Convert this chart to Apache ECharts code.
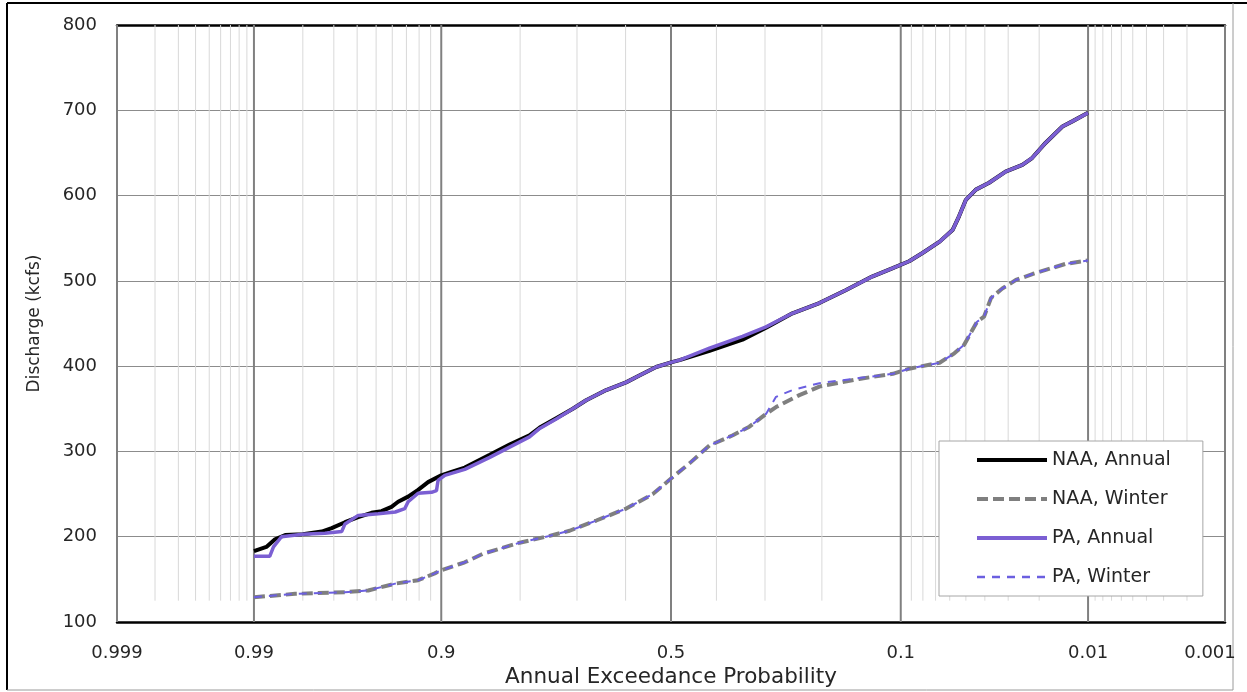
<!DOCTYPE html>
<html>
<head>
<meta charset="utf-8">
<script src="https://cdn.jsdelivr.net/npm/echarts@6/dist/echarts.min.js"></script>
<style>
html, body { margin: 0; padding: 0; background: #fff; }
#chart { width: 1247px; height: 692px; }
</style>
</head>
<body>
<div id="chart"></div>
<script>
// annual exceedance probabilities and discharge (kcfs)
var naaAnnualP = [0.99, 0.988, 0.9864, 0.9843, 0.98, 0.9743, 0.9708, 0.9655, 0.9595, 0.9526, 0.9468, 0.9405, 0.936, 0.9287, 0.9208, 0.9123, 0.90, 0.8896, 0.875, 0.844, 0.816, 0.785, 0.768, 0.739, 0.708, 0.682, 0.641, 0.599, 0.570, 0.533, 0.496, 0.481, 0.415, 0.345, 0.298, 0.249, 0.204, 0.165, 0.131, 0.108, 0.092, 0.080, 0.067, 0.058, 0.054, 0.050, 0.0445, 0.038, 0.031, 0.025, 0.022, 0.0183, 0.0145, 0.0126, 0.01];
var naaAnnualQ = [183, 188, 197, 202, 203, 206, 210, 217, 223, 228, 230, 235, 241, 247, 255, 264, 272, 276, 281, 296, 308, 319, 328, 339, 350, 360, 372, 381, 389, 399, 405, 407, 418, 431, 445, 462, 474, 489, 505, 515, 523, 533, 546, 560, 576, 595, 607, 615, 628, 636, 644, 662, 681, 687, 697];

var paAnnualP = [0.99, 0.9874, 0.9867, 0.9851, 0.98, 0.9732, 0.9669, 0.9655, 0.9595, 0.9488, 0.938, 0.9312, 0.9287, 0.9208, 0.9092, 0.9046, 0.9031, 0.8965, 0.875, 0.844, 0.816, 0.785, 0.768, 0.739, 0.708, 0.682, 0.641, 0.599, 0.570, 0.533, 0.496, 0.481, 0.415, 0.345, 0.298, 0.249, 0.204, 0.165, 0.131, 0.108, 0.092, 0.080, 0.067, 0.058, 0.054, 0.050, 0.0445, 0.038, 0.031, 0.025, 0.022, 0.0183, 0.0145, 0.0126, 0.01];
var paAnnualQ = [177, 177, 188, 200, 203, 204, 206, 215, 225, 227, 229, 233, 241, 251, 252, 254, 266, 272, 279, 293, 305, 317, 327, 338, 350, 360, 372, 381, 389, 399, 405, 407, 421, 435, 446, 462, 474, 489, 505, 515, 523, 533, 546, 560, 576, 595, 607, 615, 628, 636, 644, 662, 681, 687, 697];

var naaWinterP = [0.99, 0.982, 0.9655, 0.9544, 0.938, 0.9208, 0.9062, 0.9014, 0.8807, 0.875, 0.8528, 0.8007, 0.7508, 0.7141, 0.6615, 0.5986, 0.5404, 0.496, 0.459, 0.415, 0.365, 0.331, 0.298, 0.279, 0.237, 0.204, 0.147, 0.108, 0.092, 0.067, 0.057, 0.051, 0.047, 0.0439, 0.0404, 0.0371, 0.0323, 0.0272, 0.0219, 0.0175, 0.0138, 0.01];
var naaWinterQ = [129, 133, 135, 137, 145, 149, 157, 160, 168, 170, 180, 193, 201, 207, 219, 233, 250, 270, 286, 307, 319, 329, 344, 352, 366, 376, 385, 391, 397, 404, 415, 425, 440, 452, 458, 480, 491, 501, 508, 514, 520, 524];

var paWinterP = [0.99, 0.982, 0.9655, 0.9544, 0.938, 0.9208, 0.9062, 0.9014, 0.8807, 0.875, 0.8528, 0.8007, 0.7508, 0.7141, 0.6615, 0.5986, 0.5404, 0.496, 0.459, 0.415, 0.365, 0.331, 0.298, 0.279, 0.249, 0.204, 0.147, 0.108, 0.092, 0.067, 0.057, 0.051, 0.047, 0.0439, 0.0404, 0.0371, 0.0323, 0.0272, 0.0219, 0.0175, 0.0138, 0.01];
var paWinterQ = [129, 133, 135, 137, 145, 149, 157, 160, 168, 170, 180, 193, 201, 207, 219, 233, 250, 270, 286, 307, 319, 329, 344, 364, 372, 380, 386, 391, 397, 404, 415, 425, 440, 452, 458, 480, 491, 501, 508, 514, 520, 524];

var tickProbs = [0.999, 0.99, 0.9, 0.5, 0.1, 0.01, 0.001];
var minorProbs = [0.998, 0.997, 0.996, 0.995, 0.994, 0.993, 0.992, 0.991,
  0.98, 0.97, 0.96, 0.95, 0.94, 0.93, 0.92, 0.91,
  0.8, 0.7, 0.6, 0.4, 0.3, 0.2,
  0.09, 0.08, 0.07, 0.06, 0.05, 0.04, 0.03, 0.02,
  0.009, 0.008, 0.007, 0.006, 0.005, 0.004, 0.003, 0.002];

// inverse normal cdf (Acklam)
function normInv(p) {
  var a = [-3.969683028665376e+01, 2.209460984245205e+02, -2.759285104469687e+02, 1.383577518672690e+02, -3.066479806614716e+01, 2.506628277459239e+00];
  var b = [-5.447609879822406e+01, 1.615858368580409e+02, -1.556989798598866e+02, 6.680131188771972e+01, -1.328068155288572e+01];
  var c = [-7.784894002430293e-03, -3.223964580411365e-01, -2.400758277161838e+00, -2.549732539343734e+00, 4.374664141464968e+00, 2.938163982698783e+00];
  var d = [7.784695709041462e-03, 3.224671290700398e-01, 2.445134137142996e+00, 3.754408661907416e+00];
  var pl = 0.02425, q, r;
  if (p < pl) {
    q = Math.sqrt(-2 * Math.log(p));
    return (((((c[0] * q + c[1]) * q + c[2]) * q + c[3]) * q + c[4]) * q + c[5]) / ((((d[0] * q + d[1]) * q + d[2]) * q + d[3]) * q + 1);
  }
  if (p > 1 - pl) {
    q = Math.sqrt(-2 * Math.log(1 - p));
    return -(((((c[0] * q + c[1]) * q + c[2]) * q + c[3]) * q + c[4]) * q + c[5]) / ((((d[0] * q + d[1]) * q + d[2]) * q + d[3]) * q + 1);
  }
  q = p - 0.5; r = q * q;
  return (((((a[0] * r + a[1]) * r + a[2]) * r + a[3]) * r + a[4]) * r + a[5]) * q / (((((b[0] * r + b[1]) * r + b[2]) * r + b[3]) * r + b[4]) * r + 1);
}
// probability paper: exceedance prob -> axis position
function aepToX(p) { return normInv(1 - p); }

function pairs(ps, qs) {
  return ps.map(function (p, i) { return [aepToX(p), qs[i]]; });
}

var xMin = aepToX(0.999), xMax = aepToX(0.001);
var tickX = tickProbs.map(aepToX);
var font = 'DejaVu Sans';
var textColor = '#262626';

function gridLines(probs, color, width, yFrom) {
  return {
    type: 'custom',
    silent: true,
    z: 1,
    xAxisIndex: 0,
    yAxisIndex: 0,
    data: probs.map(function (p) { return [aepToX(p), yFrom]; }),
    encode: { x: 0, y: 1 },
    renderItem: function (params, api) {
      var a = api.coord([api.value(0), yFrom]);
      var b = api.coord([api.value(0), 800]);
      return {
        type: 'line',
        shape: { x1: a[0], y1: a[1], x2: b[0], y2: b[1] },
        style: { stroke: color, lineWidth: width }
      };
    }
  };
}

var option = {
  animation: false,
  backgroundColor: '#fff',
  grid: { left: 117, right: 22, top: 25, bottom: 70, outerBoundsMode: 'none' },
  legend: {
    data: [
      { name: 'NAA, Annual', lineStyle: { width: 4 } },
      { name: 'NAA, Winter', lineStyle: { width: 4 } },
      { name: 'PA, Annual', lineStyle: { width: 4 } },
      { name: 'PA, Winter', lineStyle: { width: 2.5 } }
    ],
    orient: 'vertical',
    left: 939,
    top: 441,
    padding: [8, 32, 8, 36],
    itemWidth: 70,
    itemHeight: 14,
    itemGap: 17,
    backgroundColor: '#fff',
    borderColor: '#a6a6a6',
    borderWidth: 1,
    itemStyle: { color: 'rgba(0,0,0,0)', borderColor: 'rgba(0,0,0,0)', borderWidth: 0 },
    textStyle: { fontFamily: font, fontSize: 19, color: textColor, lineHeight: 22 }
  },
  xAxis: [{
    type: 'value',
    position: 'bottom',
    min: xMin,
    max: xMax,
    name: 'Annual Exceedance Probability',
    nameLocation: 'middle',
    nameGap: 43,
    nameTextStyle: { fontFamily: font, fontSize: 21.5, color: textColor },
    axisLine: { lineStyle: { color: '#000', width: 2.5 } },
    axisTick: { show: false },
    splitLine: { show: false },
    axisLabel: {
      customValues: tickX,
      margin: 22,
      fontFamily: font,
      fontSize: 18,
      color: textColor,
      rich: {
        last: { fontFamily: font, fontSize: 18, color: textColor, padding: [0, 30, 0, 0] }
      },
      formatter: function (v) {
        for (var i = 0; i < tickX.length; i++) {
          if (Math.abs(tickX[i] - v) < 1e-6) {
            return i === tickX.length - 1 ? '{last|' + tickProbs[i] + '}' : String(tickProbs[i]);
          }
        }
        return '';
      }
    }
  }, {
    type: 'value',
    position: 'top',
    min: xMin,
    max: xMax,
    axisLine: { lineStyle: { color: '#000', width: 2.5 } },
    axisTick: { show: false },
    axisLabel: { show: false },
    splitLine: { show: false }
  }],
  yAxis: {
    type: 'value',
    min: 100,
    max: 800,
    interval: 100,
    name: 'Discharge (kcfs)',
    nameLocation: 'middle',
    nameGap: 74,
    nameTextStyle: { fontFamily: font, fontSize: 17, color: textColor },
    axisLine: { show: false },
    axisTick: { show: false },
    axisLabel: { margin: 20, fontFamily: font, fontSize: 18, color: textColor },
    splitLine: { lineStyle: { color: '#8c8c8c', width: 1 } }
  },
  graphic: [
    { type: 'line', shape: { x1: 7, y1: 3, x2: 7, y2: 690 }, style: { stroke: '#000', lineWidth: 2 } },
    { type: 'line', shape: { x1: 7, y1: 3, x2: 1247, y2: 3 }, style: { stroke: '#000', lineWidth: 2 } },
    { type: 'line', shape: { x1: 1233, y1: 3, x2: 1233, y2: 690 }, style: { stroke: '#9a9a9a', lineWidth: 1 } },
    { type: 'line', shape: { x1: 7, y1: 690, x2: 1233, y2: 690 }, style: { stroke: '#9a9a9a', lineWidth: 1 } }
  ],
  series: [
    gridLines(minorProbs, '#d9d9d9', 1, 125),
    gridLines(tickProbs, '#808080', 2, 100),
    {
      name: 'NAA, Annual', type: 'line', z: 3, symbol: 'none',
      color: '#000',
      lineStyle: { color: '#000', width: 4 },
      data: pairs(naaAnnualP, naaAnnualQ)
    },
    {
      name: 'NAA, Winter', type: 'line', z: 3, symbol: 'none',
      color: '#7f7f7f',
      lineStyle: { color: '#7f7f7f', width: 4, type: [11, 5] },
      data: pairs(naaWinterP, naaWinterQ)
    },
    {
      name: 'PA, Annual', type: 'line', z: 4, symbol: 'none',
      color: '#7b5fd3',
      lineStyle: { color: '#7b5fd3', width: 3.5 },
      data: pairs(paAnnualP, paAnnualQ)
    },
    {
      name: 'PA, Winter', type: 'line', z: 4, symbol: 'none',
      color: '#6b5fe0',
      lineStyle: { color: '#6b5fe0', width: 2, type: [8, 7] },
      data: pairs(paWinterP, paWinterQ)
    }
  ]
};

var myChart = echarts.init(document.getElementById('chart'));
myChart.setOption(option);
</script>
</body>
</html>
